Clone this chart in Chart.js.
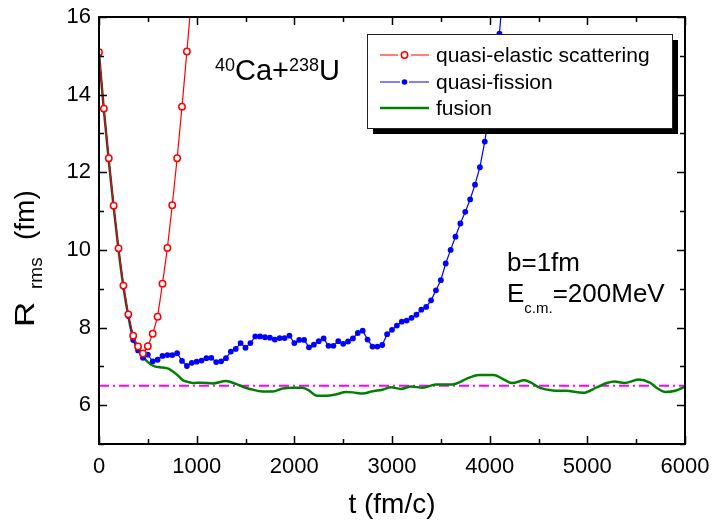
<!DOCTYPE html>
<html>
<head>
<meta charset="utf-8">
<script src="https://cdn.jsdelivr.net/npm/chart.js@4.4.1/dist/chart.umd.min.js"></script>
<style>
  body { margin: 0; background: #fff; }
  #wrap { width: 712px; height: 521px; position: relative; }
</style>
</head>
<body>
<div id="wrap"><canvas id="chart"></canvas></div>
<script>
// t (fm/c) and R_rms (fm)
const elasticT = [0, 50, 100, 150, 200, 250, 300, 350, 400, 450, 500, 550, 600, 650, 700, 750, 800, 850, 900, 950];
const elasticR = [15.09, 13.64, 12.36, 11.14, 10.04, 9.08, 8.34, 7.79, 7.51, 7.33, 7.52, 7.84, 8.28, 9.13, 10.05, 11.15, 12.36, 13.69, 15.11, 16.6];

const fissionT = [0, 50, 100, 150, 200, 250, 300, 350, 400, 450, 500, 550, 600, 650, 700, 750, 800, 850, 900, 950,
  1000, 1050, 1100, 1150, 1200, 1250, 1300, 1350, 1400, 1450, 1500, 1550, 1600, 1650, 1700, 1750, 1800, 1850, 1900, 1950,
  2000, 2050, 2100, 2150, 2200, 2250, 2300, 2350, 2400, 2450, 2500, 2550, 2600, 2650, 2700, 2750, 2800, 2850, 2900, 2950,
  3000, 3050, 3100, 3150, 3200, 3250, 3300, 3350, 3400, 3450, 3500, 3550, 3600, 3650, 3700, 3750, 3800, 3850, 3900, 3950,
  4000, 4050, 4100, 4150];
const fissionR = [15.05, 13.62, 12.33, 11.12, 10.02, 9.05, 8.30, 7.68, 7.41, 7.22, 7.30, 7.13, 7.17, 7.27, 7.29, 7.29, 7.34, 7.14, 7.01, 7.09,
  7.12, 7.15, 7.21, 7.22, 7.11, 7.13, 7.21, 7.38, 7.45, 7.60, 7.48, 7.60, 7.77, 7.77, 7.75, 7.74, 7.69, 7.73, 7.73, 7.79,
  7.60, 7.68, 7.68, 7.49, 7.56, 7.65, 7.72, 7.53, 7.53, 7.65, 7.58, 7.64, 7.72, 7.86, 7.92, 7.69, 7.51, 7.51, 7.55, 7.83,
  7.94, 8.05, 8.15, 8.18, 8.25, 8.33, 8.46, 8.53, 8.70, 8.96, 9.22, 9.65, 10.00, 10.34, 10.68, 10.98, 11.30, 11.68, 12.13, 12.79,
  13.60, 14.50, 15.57, 17.10];

const fusionT = [0, 50, 100, 150, 200, 250, 300, 350, 400, 450, 500, 570, 650, 710, 760, 810, 860, 910, 960, 1050,
  1165, 1300, 1400, 1500, 1575, 1650, 1780, 1880, 1980, 2080, 2150, 2220, 2330, 2430, 2530, 2600, 2700, 2800, 2900, 2990,
  3090, 3195, 3314, 3450, 3620, 3700, 3760, 3894, 4040, 4133, 4230, 4355, 4423, 4509, 4645, 4782, 4960, 5095, 5200, 5277,
  5379, 5525, 5640, 5720, 5800, 5900, 6000];
const fusionR = [15.05, 13.6, 12.3, 11.1, 10.0, 9.05, 8.3, 7.72, 7.42, 7.25, 7.11, 7.0, 6.97, 6.94, 6.86, 6.76, 6.64, 6.60, 6.57, 6.58,
  6.56, 6.62, 6.55, 6.45, 6.40, 6.36, 6.35, 6.43, 6.45, 6.45, 6.38, 6.25, 6.24, 6.28, 6.34, 6.33, 6.30, 6.36, 6.40, 6.46,
  6.42, 6.48, 6.45, 6.53, 6.53, 6.60, 6.68, 6.78, 6.78, 6.68, 6.57, 6.64, 6.58, 6.45, 6.38, 6.37, 6.32, 6.46, 6.57, 6.61,
  6.57, 6.66, 6.58, 6.43, 6.34, 6.37, 6.48];

const refT = [0, 6000];
const refR = [6.5, 6.5];

const xMajorTicks = [0, 1000, 2000, 3000, 4000, 5000, 6000];
const xMinorTicks = [500, 1500, 2500, 3500, 4500, 5500];
const yMajorTicks = [6, 8, 10, 12, 14, 16];
const yMinorTicks = [5, 7, 9, 11, 13, 15];

const seriesLabels = ["quasi-elastic scattering", "quasi-fission", "fusion"];

const FONT = '"Liberation Sans", Arial, Helvetica, sans-serif';
Chart.defaults.font.family = FONT;
Chart.defaults.color = "#000";

function toPoints(ts, rs) {
  return ts.map((t, i) => ({ x: t, y: rs[i] }));
}

// draw text pieces one after another, each with its own size and baseline shift
function drawPieces(ctx, x, y, pieces) {
  let cx = x;
  for (const p of pieces) {
    ctx.font = p.size + "px " + FONT;
    ctx.fillText(p.text, cx, y + (p.dy || 0));
    cx += ctx.measureText(p.text).width;
  }
}

const framePlugin = {
  id: "frame",
  afterDatasetsDraw(chart) {
    const ctx = chart.ctx;
    const a = chart.chartArea;
    const xs = chart.scales.x;
    const ys = chart.scales.y;
    ctx.save();
    ctx.strokeStyle = "#000";
    ctx.lineWidth = 1.5;
    ctx.beginPath();
    const tick = (vals, len, isX) => {
      for (const v of vals) {
        if (isX) {
          const px = Math.round(xs.getPixelForValue(v)) + 0.5;
          ctx.moveTo(px, a.bottom); ctx.lineTo(px, a.bottom - len);
          ctx.moveTo(px, a.top); ctx.lineTo(px, a.top + len);
        } else {
          const py = Math.round(ys.getPixelForValue(v)) + 0.5;
          ctx.moveTo(a.left, py); ctx.lineTo(a.left + len, py);
          ctx.moveTo(a.right, py); ctx.lineTo(a.right - len, py);
        }
      }
    };
    tick(xMajorTicks, 8, true);
    tick(xMinorTicks, 5, true);
    tick(yMajorTicks, 8, false);
    tick(yMinorTicks, 5, false);
    ctx.stroke();
    ctx.lineWidth = 2;
    ctx.strokeRect(a.left, a.top, a.right - a.left, a.bottom - a.top);
    ctx.restore();
  },
  afterDraw(chart) {
    const ctx = chart.ctx;
    ctx.save();
    ctx.fillStyle = "#000";

    // legend box with drop shadow
    const lx = 367, ly = 34, lw = 305, lh = 94;
    ctx.fillRect(lx + 6, ly + 6, lw, lh);
    ctx.fillStyle = "#fff";
    ctx.fillRect(lx, ly, lw, lh);
    ctx.strokeStyle = "#222";
    ctx.lineWidth = 1;
    ctx.strokeRect(lx + 0.5, ly + 0.5, lw, lh);

    const rows = [55, 82, 108];
    // quasi-elastic sample
    ctx.strokeStyle = "#ff0000";
    ctx.lineWidth = 1.2;
    ctx.beginPath();
    ctx.moveTo(380, rows[0]); ctx.lineTo(398, rows[0]);
    ctx.moveTo(411, rows[0]); ctx.lineTo(429, rows[0]);
    ctx.stroke();
    ctx.beginPath();
    ctx.arc(404.5, rows[0], 3.2, 0, Math.PI * 2);
    ctx.fillStyle = "#fff"; ctx.fill();
    ctx.lineWidth = 1.5; ctx.stroke();
    // quasi-fission sample
    ctx.strokeStyle = "#0000ff";
    ctx.lineWidth = 1.2;
    ctx.beginPath();
    ctx.moveTo(380, rows[1]); ctx.lineTo(400, rows[1]);
    ctx.moveTo(409, rows[1]); ctx.lineTo(429, rows[1]);
    ctx.stroke();
    ctx.beginPath();
    ctx.arc(404.5, rows[1], 2.8, 0, Math.PI * 2);
    ctx.fillStyle = "#0000ff"; ctx.fill();
    // fusion sample
    ctx.strokeStyle = "#008000";
    ctx.lineWidth = 2.5;
    ctx.beginPath();
    ctx.moveTo(380, rows[2]); ctx.lineTo(429, rows[2]);
    ctx.stroke();

    ctx.fillStyle = "#000";
    ctx.font = "21px " + FONT;
    ctx.textBaseline = "middle";
    seriesLabels.forEach((s, i) => ctx.fillText(s, 436, rows[i] + 1));

    // annotations
    ctx.textBaseline = "alphabetic";
    drawPieces(ctx, 215, 79.5, [
      { text: "40", size: 18, dy: -9 },
      { text: "Ca+", size: 29 },
      { text: "238", size: 18, dy: -9 },
      { text: "U", size: 29 }
    ]);
    ctx.font = "26px " + FONT;
    ctx.fillText("b=1fm", 507, 271);
    drawPieces(ctx, 507, 302, [
      { text: "E", size: 26 },
      { text: "c.m.", size: 15, dy: 11 },
      { text: "=200MeV", size: 26 }
    ]);

    // axis titles
    ctx.font = "28px " + FONT;
    ctx.textAlign = "center";
    ctx.fillText("t (fm/c)", 392, 513);
    ctx.textAlign = "left";

    ctx.translate(34, 327);
    ctx.rotate(-Math.PI / 2);
    ctx.font = "28px " + FONT;
    ctx.save();
    ctx.scale(1.25, 1);
    ctx.fillText("R", 0, 0);
    ctx.restore();
    ctx.font = "19px " + FONT;
    ctx.fillText("rms", 38, 8);
    ctx.font = "28px " + FONT;
    ctx.fillText("(fm)", 87, 0);
    ctx.restore();
  }
};

new Chart(document.getElementById("chart"), {
  type: "line",
  data: {
    datasets: [
      {
        label: seriesLabels[0],
        data: toPoints(elasticT, elasticR),
        borderColor: "#ff0000",
        borderWidth: 1.2,
        pointRadius: 3.2,
        pointBorderWidth: 1.5,
        pointBackgroundColor: "#ffffff",
        pointBorderColor: "#ff0000",
        tension: 0,
        order: 0
      },
      {
        label: seriesLabels[1],
        data: toPoints(fissionT, fissionR),
        borderColor: "#0000ff",
        borderWidth: 1.2,
        pointRadius: 2.9,
        pointBorderWidth: 0,
        pointBackgroundColor: "#0000ff",
        tension: 0,
        order: 1
      },
      {
        label: seriesLabels[2],
        data: toPoints(fusionT, fusionR),
        borderColor: "#008000",
        borderWidth: 2.5,
        pointRadius: 0,
        cubicInterpolationMode: "monotone",
        order: 2
      },
      {
        label: "reference",
        data: toPoints(refT, refR),
        borderColor: "#ff00ff",
        borderWidth: 2,
        borderDash: [10, 4, 2, 4],
        pointRadius: 0,
        order: 3
      }
    ]
  },
  options: {
    responsive: true,
    maintainAspectRatio: false,
    animation: false,
    events: [],
    layout: { padding: { top: 17, right: 27, left: 0, bottom: 0 } },
    plugins: { legend: { display: false }, tooltip: { enabled: false } },
    scales: {
      x: {
        type: "linear",
        min: 0,
        max: 6000,
        afterBuildTicks: (scale) => { scale.ticks = xMajorTicks.map((v) => ({ value: v })); },
        afterFit: (scale) => { scale.height = 77; scale.paddingLeft = 0; scale.paddingRight = 0; },
        grid: { display: false, drawTicks: false },
        border: { display: false },
        ticks: { padding: 10, font: { size: 22 }, color: "#000", maxRotation: 0, callback: (v) => String(v) }
      },
      y: {
        type: "linear",
        min: 5,
        max: 16,
        afterBuildTicks: (scale) => { scale.ticks = yMajorTicks.map((v) => ({ value: v })); },
        afterFit: (scale) => { scale.width = 99; scale.paddingTop = 0; scale.paddingBottom = 0; },
        grid: { display: false, drawTicks: false },
        border: { display: false },
        ticks: { padding: 8, font: { size: 22 }, color: "#000", callback: (v) => String(v) }
      }
    }
  },
  plugins: [framePlugin]
});
</script>
</body>
</html>
